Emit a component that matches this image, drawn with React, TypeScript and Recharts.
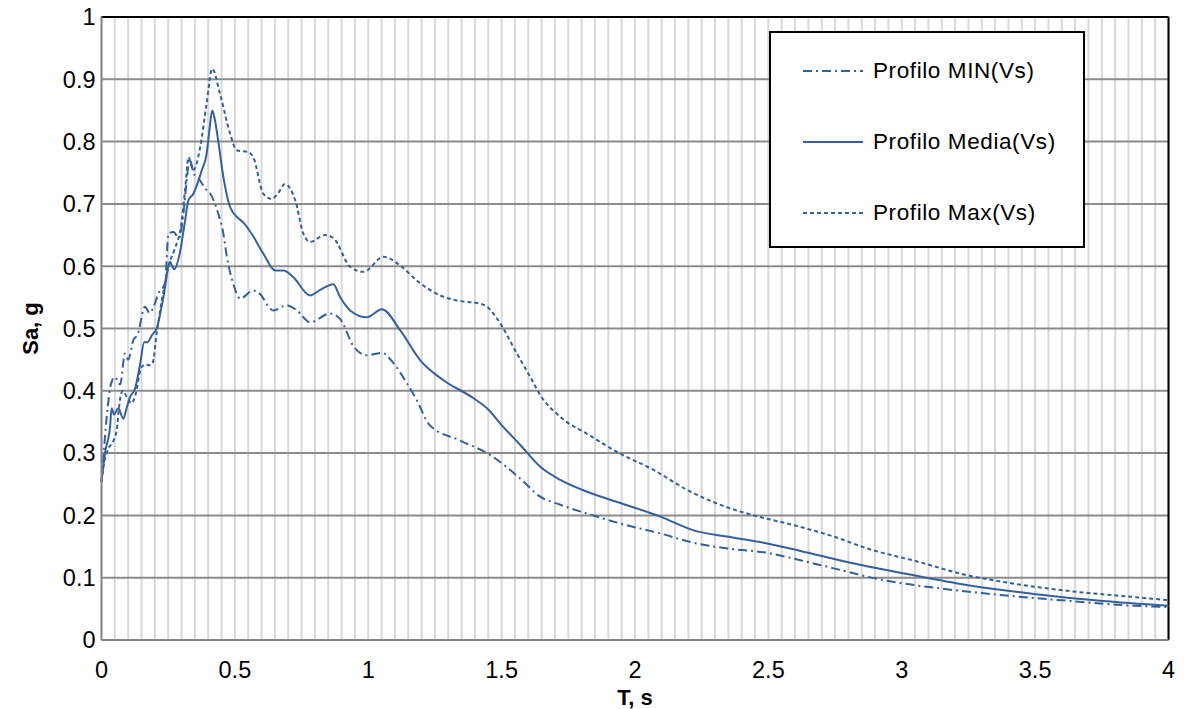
import React from 'react';
import { LineChart, Line, XAxis, YAxis, CartesianGrid, ReferenceLine } from 'recharts';

// Spectral acceleration Sa (g) against period T (s) for three Vs profiles
const minT = [0, 0.01, 0.02, 0.035, 0.05, 0.07, 0.088, 0.1, 0.119, 0.135, 0.163, 0.18, 0.2, 0.213, 0.238, 0.251, 0.27, 0.29, 0.307, 0.32, 0.33, 0.345, 0.369, 0.388, 0.407, 0.438, 0.457, 0.47, 0.494, 0.52, 0.569, 0.59, 0.644, 0.694, 0.73, 0.782, 0.857, 0.895, 0.944, 0.995, 1.051, 1.095, 1.145, 1.182, 1.23, 1.345, 1.457, 1.57, 1.645, 1.72, 1.82, 1.945, 2.095, 2.22, 2.345, 2.495, 2.62, 2.745, 2.932, 3.12, 3.307, 3.62, 3.87, 4];
const minSa = [0.254, 0.31, 0.36, 0.41, 0.422, 0.41, 0.46, 0.45, 0.481, 0.49, 0.535, 0.525, 0.54, 0.556, 0.572, 0.652, 0.655, 0.645, 0.684, 0.74, 0.772, 0.75, 0.738, 0.725, 0.717, 0.684, 0.652, 0.615, 0.572, 0.548, 0.561, 0.557, 0.529, 0.537, 0.53, 0.51, 0.524, 0.515, 0.472, 0.457, 0.461, 0.444, 0.412, 0.385, 0.345, 0.32, 0.297, 0.259, 0.23, 0.217, 0.203, 0.187, 0.171, 0.156, 0.147, 0.14, 0.128, 0.115, 0.096, 0.084, 0.075, 0.063, 0.055, 0.053];

const mediaT = [0, 0.013, 0.032, 0.038, 0.047, 0.063, 0.082, 0.094, 0.107, 0.126, 0.144, 0.16, 0.172, 0.19, 0.207, 0.232, 0.257, 0.265, 0.273, 0.294, 0.313, 0.326, 0.344, 0.376, 0.394, 0.405, 0.415, 0.425, 0.438, 0.457, 0.482, 0.513, 0.532, 0.563, 0.607, 0.651, 0.682, 0.72, 0.782, 0.82, 0.869, 0.895, 0.932, 0.995, 1.051, 1.12, 1.195, 1.282, 1.395, 1.45, 1.5, 1.57, 1.645, 1.72, 1.82, 1.945, 2.095, 2.22, 2.345, 2.495, 2.62, 2.807, 2.995, 3.22, 3.495, 3.745, 4];
const mediaSa = [0.254, 0.3, 0.342, 0.372, 0.362, 0.372, 0.355, 0.372, 0.39, 0.404, 0.441, 0.478, 0.478, 0.49, 0.5, 0.55, 0.607, 0.6, 0.595, 0.622, 0.672, 0.706, 0.716, 0.754, 0.78, 0.82, 0.85, 0.835, 0.8, 0.743, 0.695, 0.677, 0.67, 0.652, 0.62, 0.593, 0.593, 0.582, 0.553, 0.562, 0.571, 0.55, 0.529, 0.518, 0.531, 0.497, 0.449, 0.417, 0.388, 0.37, 0.345, 0.313, 0.278, 0.257, 0.238, 0.22, 0.198, 0.176, 0.166, 0.155, 0.143, 0.124, 0.108, 0.09, 0.074, 0.063, 0.055];

const maxT = [0, 0.01, 0.026, 0.045, 0.057, 0.069, 0.08, 0.095, 0.113, 0.125, 0.15, 0.165, 0.182, 0.192, 0.207, 0.226, 0.257, 0.272, 0.3, 0.315, 0.326, 0.344, 0.37, 0.394, 0.415, 0.444, 0.482, 0.507, 0.551, 0.569, 0.607, 0.638, 0.66, 0.688, 0.726, 0.757, 0.782, 0.838, 0.87, 0.932, 0.982, 1.057, 1.12, 1.182, 1.27, 1.345, 1.407, 1.445, 1.495, 1.557, 1.61, 1.645, 1.72, 1.82, 1.945, 2.07, 2.195, 2.32, 2.445, 2.57, 2.745, 2.87, 3.058, 3.245, 3.37, 3.62, 3.87, 4];
const maxSa = [0.254, 0.285, 0.307, 0.32, 0.337, 0.385, 0.4, 0.39, 0.38, 0.39, 0.438, 0.442, 0.441, 0.445, 0.492, 0.545, 0.608, 0.625, 0.67, 0.73, 0.775, 0.754, 0.791, 0.861, 0.917, 0.877, 0.813, 0.786, 0.783, 0.775, 0.716, 0.708, 0.716, 0.732, 0.706, 0.652, 0.639, 0.65, 0.645, 0.599, 0.591, 0.615, 0.601, 0.577, 0.553, 0.544, 0.541, 0.535, 0.508, 0.46, 0.42, 0.393, 0.358, 0.331, 0.299, 0.273, 0.241, 0.217, 0.2, 0.187, 0.166, 0.147, 0.126, 0.104, 0.094, 0.079, 0.069, 0.064];

const seriesNames = ['Profilo MIN(Vs)', 'Profilo Media(Vs)', 'Profilo Max(Vs)'];
const seriesDash = ['9 4 2 4', undefined, '4 3'];
const xTicks = [0, 0.5, 1, 1.5, 2, 2.5, 3, 3.5, 4];
const yTicks = [0, 0.1, 0.2, 0.3, 0.4, 0.5, 0.6, 0.7, 0.8, 0.9, 1];
// minor vertical grid every 0.05 s
const xMinor = Array.from({ length: 81 }, (_, i) => +(i * 0.05).toFixed(2));

const zip = (ts: number[], vs: number[]) => ts.map((t, i) => ({ t, sa: vs[i] }));

const BLUE = '#35609a';
const FONT = '"Liberation Sans", Arial, sans-serif';

function LegendBox() {
    return (
        <div style={{
            position: 'absolute',
            left: 769,
            top: 31,
            width: 316,
            height: 217,
            border: '2px solid #000',
            background: '#fff',
            boxSizing: 'border-box',
            paddingTop: 2,
            fontFamily: FONT,
        }}>
            {seriesNames.map((name, i) => (
                <div key={name} style={{ display: 'flex', alignItems: 'center', height: 71 }}>
                    <svg width={60} height={10} style={{ marginLeft: 32 }}>
                        <line x1={0} y1={5} x2={60} y2={5} stroke={BLUE} strokeWidth={2} strokeDasharray={seriesDash[i]} />
                    </svg>
                    <span style={{ marginLeft: 10, fontSize: 22.5, color: '#000', letterSpacing: 0.6 }}>{name}</span>
                </div>
            ))}
        </div>
    );
}

export default function App() {
    const data = [zip(minT, minSa), zip(mediaT, mediaSa), zip(maxT, maxSa)];

    const minorX = ({ xAxis, offset }: any) =>
        xMinor.map(v => (xAxis && typeof xAxis.scale === 'function')
            ? xAxis.scale(v)
            : offset.left + (offset.width * v) / 4);

    return (
        <div style={{ position: 'absolute', left: 0, top: 0, width: 1184, height: 709, background: '#fff' }}>
            <LineChart width={1184} height={709} margin={{ top: 17, right: 15.5, left: 10, bottom: 0 }}>
                <CartesianGrid horizontal={false} verticalCoordinatesGenerator={minorX} stroke="#d9d9d9" strokeWidth={2} />
                <CartesianGrid vertical={false} stroke="#8c8c8c" strokeWidth={2} />
                <XAxis
                    type="number"
                    dataKey="t"
                    domain={[0, 4]}
                    ticks={xTicks}
                    allowDuplicatedCategory={false}
                    height={69}
                    tickSize={0}
                    tickMargin={21}
                    axisLine={{ stroke: '#868686', strokeWidth: 2 }}
                    tick={{ fill: '#000', fontSize: 23.5, fontFamily: FONT }}
                    label={{ value: 'T, s', position: 'insideBottom', offset: 4, fill: '#000', fontSize: 22, fontWeight: 'bold', fontFamily: FONT }}
                />
                <YAxis
                    type="number"
                    domain={[0, 1]}
                    ticks={yTicks}
                    width={91.5}
                    tickSize={0}
                    tickMargin={6}
                    axisLine={{ stroke: '#868686', strokeWidth: 2 }}
                    tick={{ fill: '#000', fontSize: 23.5, fontFamily: FONT }}
                    label={{ value: 'Sa, g', angle: -90, position: 'insideLeft', offset: 20, fill: '#000', fontSize: 22, fontWeight: 'bold', fontFamily: FONT, style: { textAnchor: 'middle' } }}
                />
                <ReferenceLine y={1} stroke="#000" strokeWidth={2} />
                <ReferenceLine x={4} stroke="#000" strokeWidth={2} />
                {seriesNames.map((name, i) => (
                    <Line
                        key={name}
                        name={name}
                        data={data[i]}
                        dataKey="sa"
                        type="monotone"
                        stroke={BLUE}
                        strokeWidth={2}
                        strokeDasharray={seriesDash[i]}
                        dot={false}
                        activeDot={false}
                        isAnimationActive={false}
                    />
                ))}
            </LineChart>
            <LegendBox />
        </div>
    );
}
